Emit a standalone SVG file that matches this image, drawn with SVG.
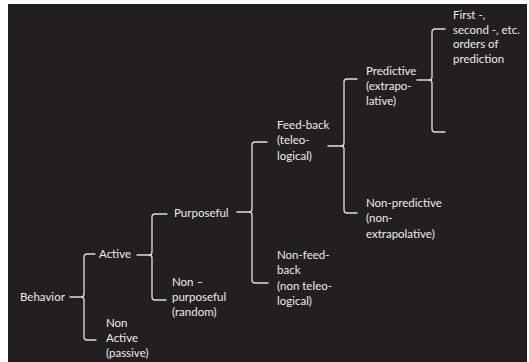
<svg xmlns="http://www.w3.org/2000/svg" width="529" height="362" viewBox="0 0 529 362">
<style>
text{font-family:Lato,"Liberation Sans",sans-serif;font-size:11.5px;fill:#ececec}
.c path{fill:none;stroke:#e0e0e0;stroke-width:1.3;stroke-linecap:round;stroke-linejoin:round}
</style>
<rect width="529" height="362" fill="#ffffff"/>
<rect x="8" y="4" width="519" height="358" fill="#231f20"/>
<g class="c" id="connectors">
<path d="M70,297 H80 M95,254 H87 Q84,254 84,257 V294 Q84,297 81,297 Q84,297 84,300 V337 Q84,340 87,340 H96"/>
<path d="M137,255 H149 M167,214 H155 Q152,214 152,217 V252 Q152,255 149,255 Q152,255 152,258 V297 Q152,300 155,300 H166"/>
<path d="M237,212 H249 M267,142 H255 Q252,142 252,145 V209 Q252,212 249,212 Q252,212 252,215 V280 Q252,283 255,283 H268"/>
<path d="M328,146 H341 M357,79 H347 Q344,79 344,82 V143 Q344,146 341,146 Q344,146 344,149 V210 Q344,213 347,213 H357"/>
<path d="M417,80 H429 M445,29 H435 Q432,29 432,32 V77 Q432,80 429,80 Q432,80 432,83 V129 Q432,132 435,132 H445"/>
</g>
<g id="behavior"><text x="20" y="301">Behavior</text></g>
<g id="active"><text x="99" y="258">Active</text></g>
<g id="non-active"><text x="106" y="327">Non</text><text x="106" y="342">Active</text><text x="106" y="357">(passive)</text></g>
<g id="purposeful"><text x="174" y="217">Purposeful</text></g>
<g id="non-purposeful"><text x="172" y="286">Non –</text><text x="172" y="301">purposeful</text><text x="172" y="316">(random)</text></g>
<g id="feedback"><text x="277" y="129">Feed-back</text><text x="277" y="144">(teleo-</text><text x="277" y="160">logical)</text></g>
<g id="non-feedback"><text x="277" y="259">Non-feed-</text><text x="277" y="274">back</text><text x="277" y="290">(non teleo-</text><text x="277" y="305">logical)</text></g>
<g id="predictive"><text x="366" y="75">Predictive</text><text x="366" y="90">(extrapo-</text><text x="366" y="105">lative)</text></g>
<g id="non-predictive"><text x="366" y="207">Non-predictive</text><text x="366" y="222">(non-</text><text x="366" y="238">extrapolative)</text></g>
<g id="orders"><text x="453" y="19">First -,</text><text x="453" y="34">second -, etc.</text><text x="453" y="48">orders of</text><text x="453" y="63">prediction</text></g>
</svg>
